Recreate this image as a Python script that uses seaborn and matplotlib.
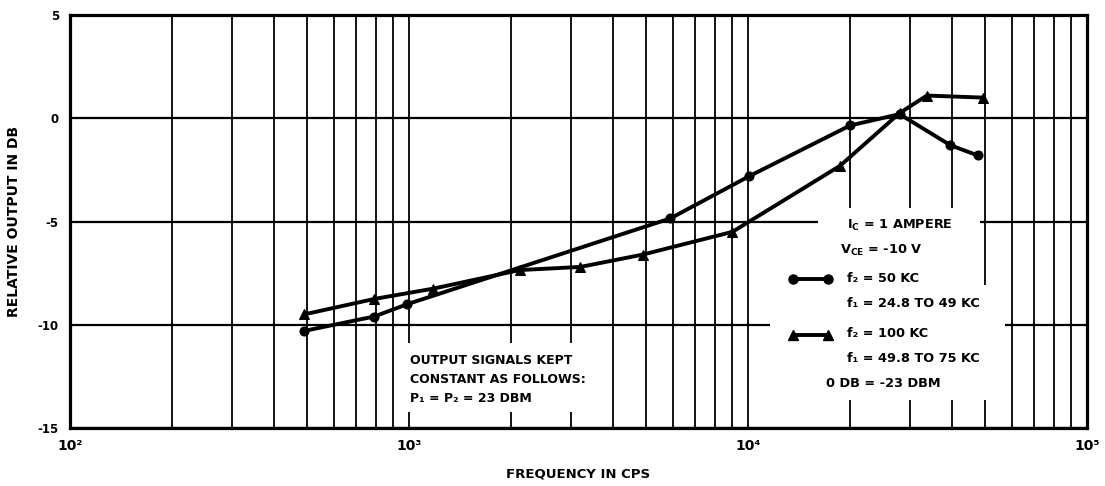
import matplotlib
matplotlib.use("Agg")
import matplotlib.pyplot as plt
from matplotlib.patches import Rectangle
import seaborn as sns
import pandas as pd

# ---- data ----
circle_freq = [490, 790, 990, 5900, 10100, 20000, 28000, 39500, 47600]
circle_db = [-10.3, -9.6, -9.0, -4.85, -2.8, -0.35, 0.2, -1.3, -1.8]
tri_freq = [490, 790, 1180, 2120, 3200, 4900, 9000, 18700, 28000, 33700, 49500]
tri_db = [-9.5, -8.75, -8.25, -7.35, -7.2, -6.6, -5.5, -2.3, 0.25, 1.1, 1.0]

x_major = [1e2, 1e3, 1e4, 1e5]
x_labels = ["10\u00b2", "10\u00b3", "10\u2074", "10\u2075"]
y_ticks = [-15, -10, -5, 0, 5]
y_labels = ["-15", "-10", "-5", "0", "5"]

sns.set_style("white")
plt.rcParams["font.family"] = ["DejaVu Sans"]
plt.rcParams["font.weight"] = "bold"
for k in ["text.color", "axes.labelcolor", "xtick.color", "ytick.color"]:
    plt.rcParams[k] = "black"
plt.rcParams["mathtext.fontset"] = "custom"
plt.rcParams["mathtext.rm"] = "DejaVu Sans:bold"
plt.rcParams["mathtext.bf"] = "DejaVu Sans:bold"
plt.rcParams["mathtext.it"] = "DejaVu Sans:bold"

df = pd.concat([
    pd.DataFrame({"freq": circle_freq, "db": circle_db, "series": "f2 = 50 KC"}),
    pd.DataFrame({"freq": tri_freq, "db": tri_db, "series": "f2 = 100 KC"}),
])

fig = plt.figure(figsize=(11.05, 4.86), dpi=100)
ax = fig.add_axes([0.0633, 0.1193, 0.9204, 0.8498])
ax.set_xscale("log")

sns.lineplot(data=df, x="freq", y="db", hue="series", style="series",
             markers={"f2 = 50 KC": "o", "f2 = 100 KC": "^"}, dashes=False,
             palette={"f2 = 50 KC": "black", "f2 = 100 KC": "black"},
             estimator=None, sort=True, lw=2.8, markersize=6.5,
             markeredgecolor="black", legend=False, ax=ax, zorder=5)

ax.set_xlim(1e2, 1e5)
ax.set_ylim(-15, 5)
ax.set_xticks(x_major)
ax.set_xticklabels(x_labels, fontsize=10, fontweight="bold")
minors = [m * d for d in [1e2, 1e3, 1e4] for m in range(2, 10)]
ax.set_xticks(minors, minor=True)
ax.set_xticklabels([], minor=True)
ax.set_yticks(y_ticks)
ax.set_yticklabels(y_labels, fontsize=8.5, fontweight="bold")
ax.tick_params(axis="both", which="both", length=0, pad=8)
ax.grid(True, which="both", axis="x", color="black", lw=1.3, zorder=1)
ax.grid(True, which="major", axis="y", color="black", lw=1.6, zorder=1)
ax.set_axisbelow(True)
for s in ax.spines.values():
    s.set_visible(True)
    s.set_color("black")
    s.set_linewidth(2.3)
    s.set_zorder(8)

ax.set_xlabel("FREQUENCY IN CPS", fontsize=9.5, fontweight="bold", labelpad=10)
ax.set_ylabel("RELATIVE OUTPUT IN DB", fontsize=10, fontweight="bold", labelpad=12)

# white areas that interrupt the grid under the notes
for (x0, y0, w, h) in [(0.3245, 0.0387, 0.2016, 0.1671),
                       (0.7355, 0.0678, 0.1593, 0.4649),
                       (0.6883, 0.0678, 0.2311, 0.2784)]:
    ax.add_patch(Rectangle((x0, y0), w, h, transform=ax.transAxes,
                           facecolor="white", edgecolor="none", zorder=4))

# lower-left note
for y, t in [(0.1646, "OUTPUT SIGNALS KEPT"),
             (0.1186, "CONSTANT AS FOLLOWS:"),
             (0.0726, "P\u2081 = P\u2082 = 23 DBM")]:
    ax.text(0.3343, y, t, transform=ax.transAxes, fontsize=9, fontweight="bold",
            va="center", ha="left", zorder=6)

# legend block
fs = 9.3
lines = [
    (0.764, 0.4915, r"$\mathbf{I_C}$ = 1 AMPERE"),
    (0.757, 0.431, r"$\mathbf{V_{CE}}$ = -10 V"),
    (0.764, 0.3632, "f\u2082 = 50 KC"),
    (0.764, 0.3027, "f\u2081 = 24.8 TO 49 KC"),
    (0.764, 0.230, "f\u2082 = 100 KC"),
    (0.764, 0.1695, "f\u2081 = 49.8 TO 75 KC"),
    (0.7434, 0.109, "0 DB = -23 DBM"),
]
for x, y, t in lines:
    ax.text(x, y, t, transform=ax.transAxes, fontsize=fs, fontweight="bold",
            va="center", ha="left", zorder=6)

ax.plot([0.711, 0.745], [0.3608, 0.3608], transform=ax.transAxes, color="black",
        lw=2.8, marker="o", markersize=6.5, zorder=7)
ax.plot([0.711, 0.745], [0.2252, 0.2252], transform=ax.transAxes, color="black",
        lw=2.8, marker="^", markersize=6.5, zorder=7)

fig.savefig("out.png", dpi=100)
